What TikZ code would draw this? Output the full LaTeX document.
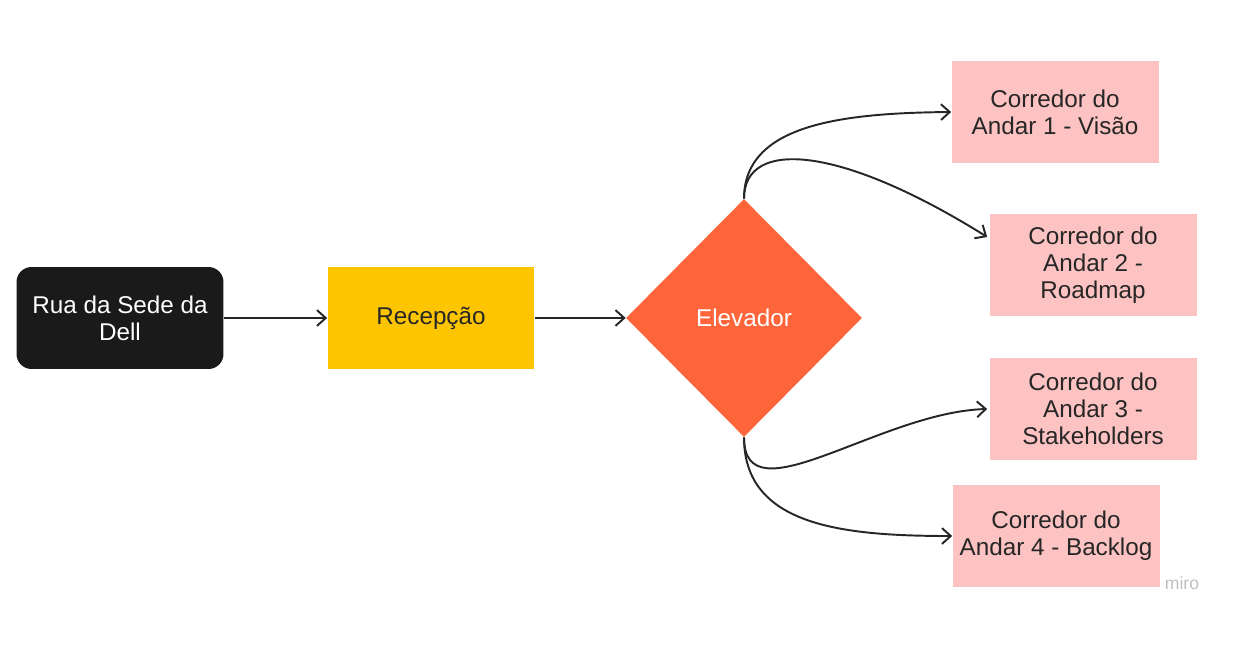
\documentclass[tikz,border=0pt]{standalone}
\usepackage{fontspec}
\setmainfont{Liberation Sans}
\usetikzlibrary{calc,shapes.geometric,arrows.meta}

\definecolor{ruablack}{HTML}{1A1A1A}
\definecolor{recepyellow}{HTML}{FDC500}
\definecolor{elevorange}{HTML}{FF653B}
\definecolor{andarpink}{HTML}{FDC2C2}

\begin{document}
\begin{tikzpicture}[x=0.02cm,y=-0.02cm]
 \tikzstyle{arrow} = [-{Straight Barb[length=5pt,width=9pt]},line width=1.1pt,draw=black!85];
 \tikzstyle{box} = [rectangle,minimum width=4.14cm,minimum height=2.04cm,inner sep=0.2em,align=center,font=\fontsize{13.8}{15.5}\selectfont];
 \tikzstyle{placeK} = [fill=ruablack,text=white,rounded corners=0.3cm];
 \tikzstyle{placeY} = [fill=recepyellow,text=black!85];
 \tikzstyle{placeO} = [diamond,fill=elevorange,text=white,minimum width=4.72cm,minimum height=4.76cm,inner sep=0pt,font=\fontsize{13.8}{15.5}\selectfont];
 \tikzstyle{placeP} = [fill=andarpink,text=black!85];

 \useasboundingbox (0,0) rectangle (1239,669);

 \node[box,placeK,name=rua] at (120,318) {Rua da Sede da\\Dell};
 \node[box,placeY,name=recep] at (431,318) {Recepção};
 \node[placeO,name=elev] at (744,318) {Elevador};

 \node[box,placeP,name=and1] at (1055,112) {Corredor do\\Andar 1 - Visão};
 \node[box,placeP,name=and2] at (1093,265) {Corredor do\\Andar 2 -\\Roadmap};
 \node[box,placeP,name=and3] at (1093,409) {Corredor do\\Andar 3 -\\Stakeholders};
 \node[box,placeP,name=and4] at (1056,536) {Corredor do\\Andar 4 - Backlog};

 \node[text=black!25,font=\fontsize{10}{12}\selectfont,name=miro] at (1182,583) {miro};

 \draw[arrow] (rua) -- (recep);
 \draw[arrow] (recep) -- (elev);

 % curves out of the elevator
 \draw[arrow] (elev.north) .. controls (744,125) and (840,113) .. (and1.west);
 \draw[arrow] (elev.north) .. controls (744,138) and (840,145) .. ($(and2.west)+(-2,-28)$);
 \draw[arrow] (elev.south) .. controls (744,520) and (880,412) .. ($(and3.west)+(-2,0)$);
 \draw[arrow] (elev.south) .. controls (744,525) and (840,536) .. (and4.west);

\end{tikzpicture}
\end{document}
